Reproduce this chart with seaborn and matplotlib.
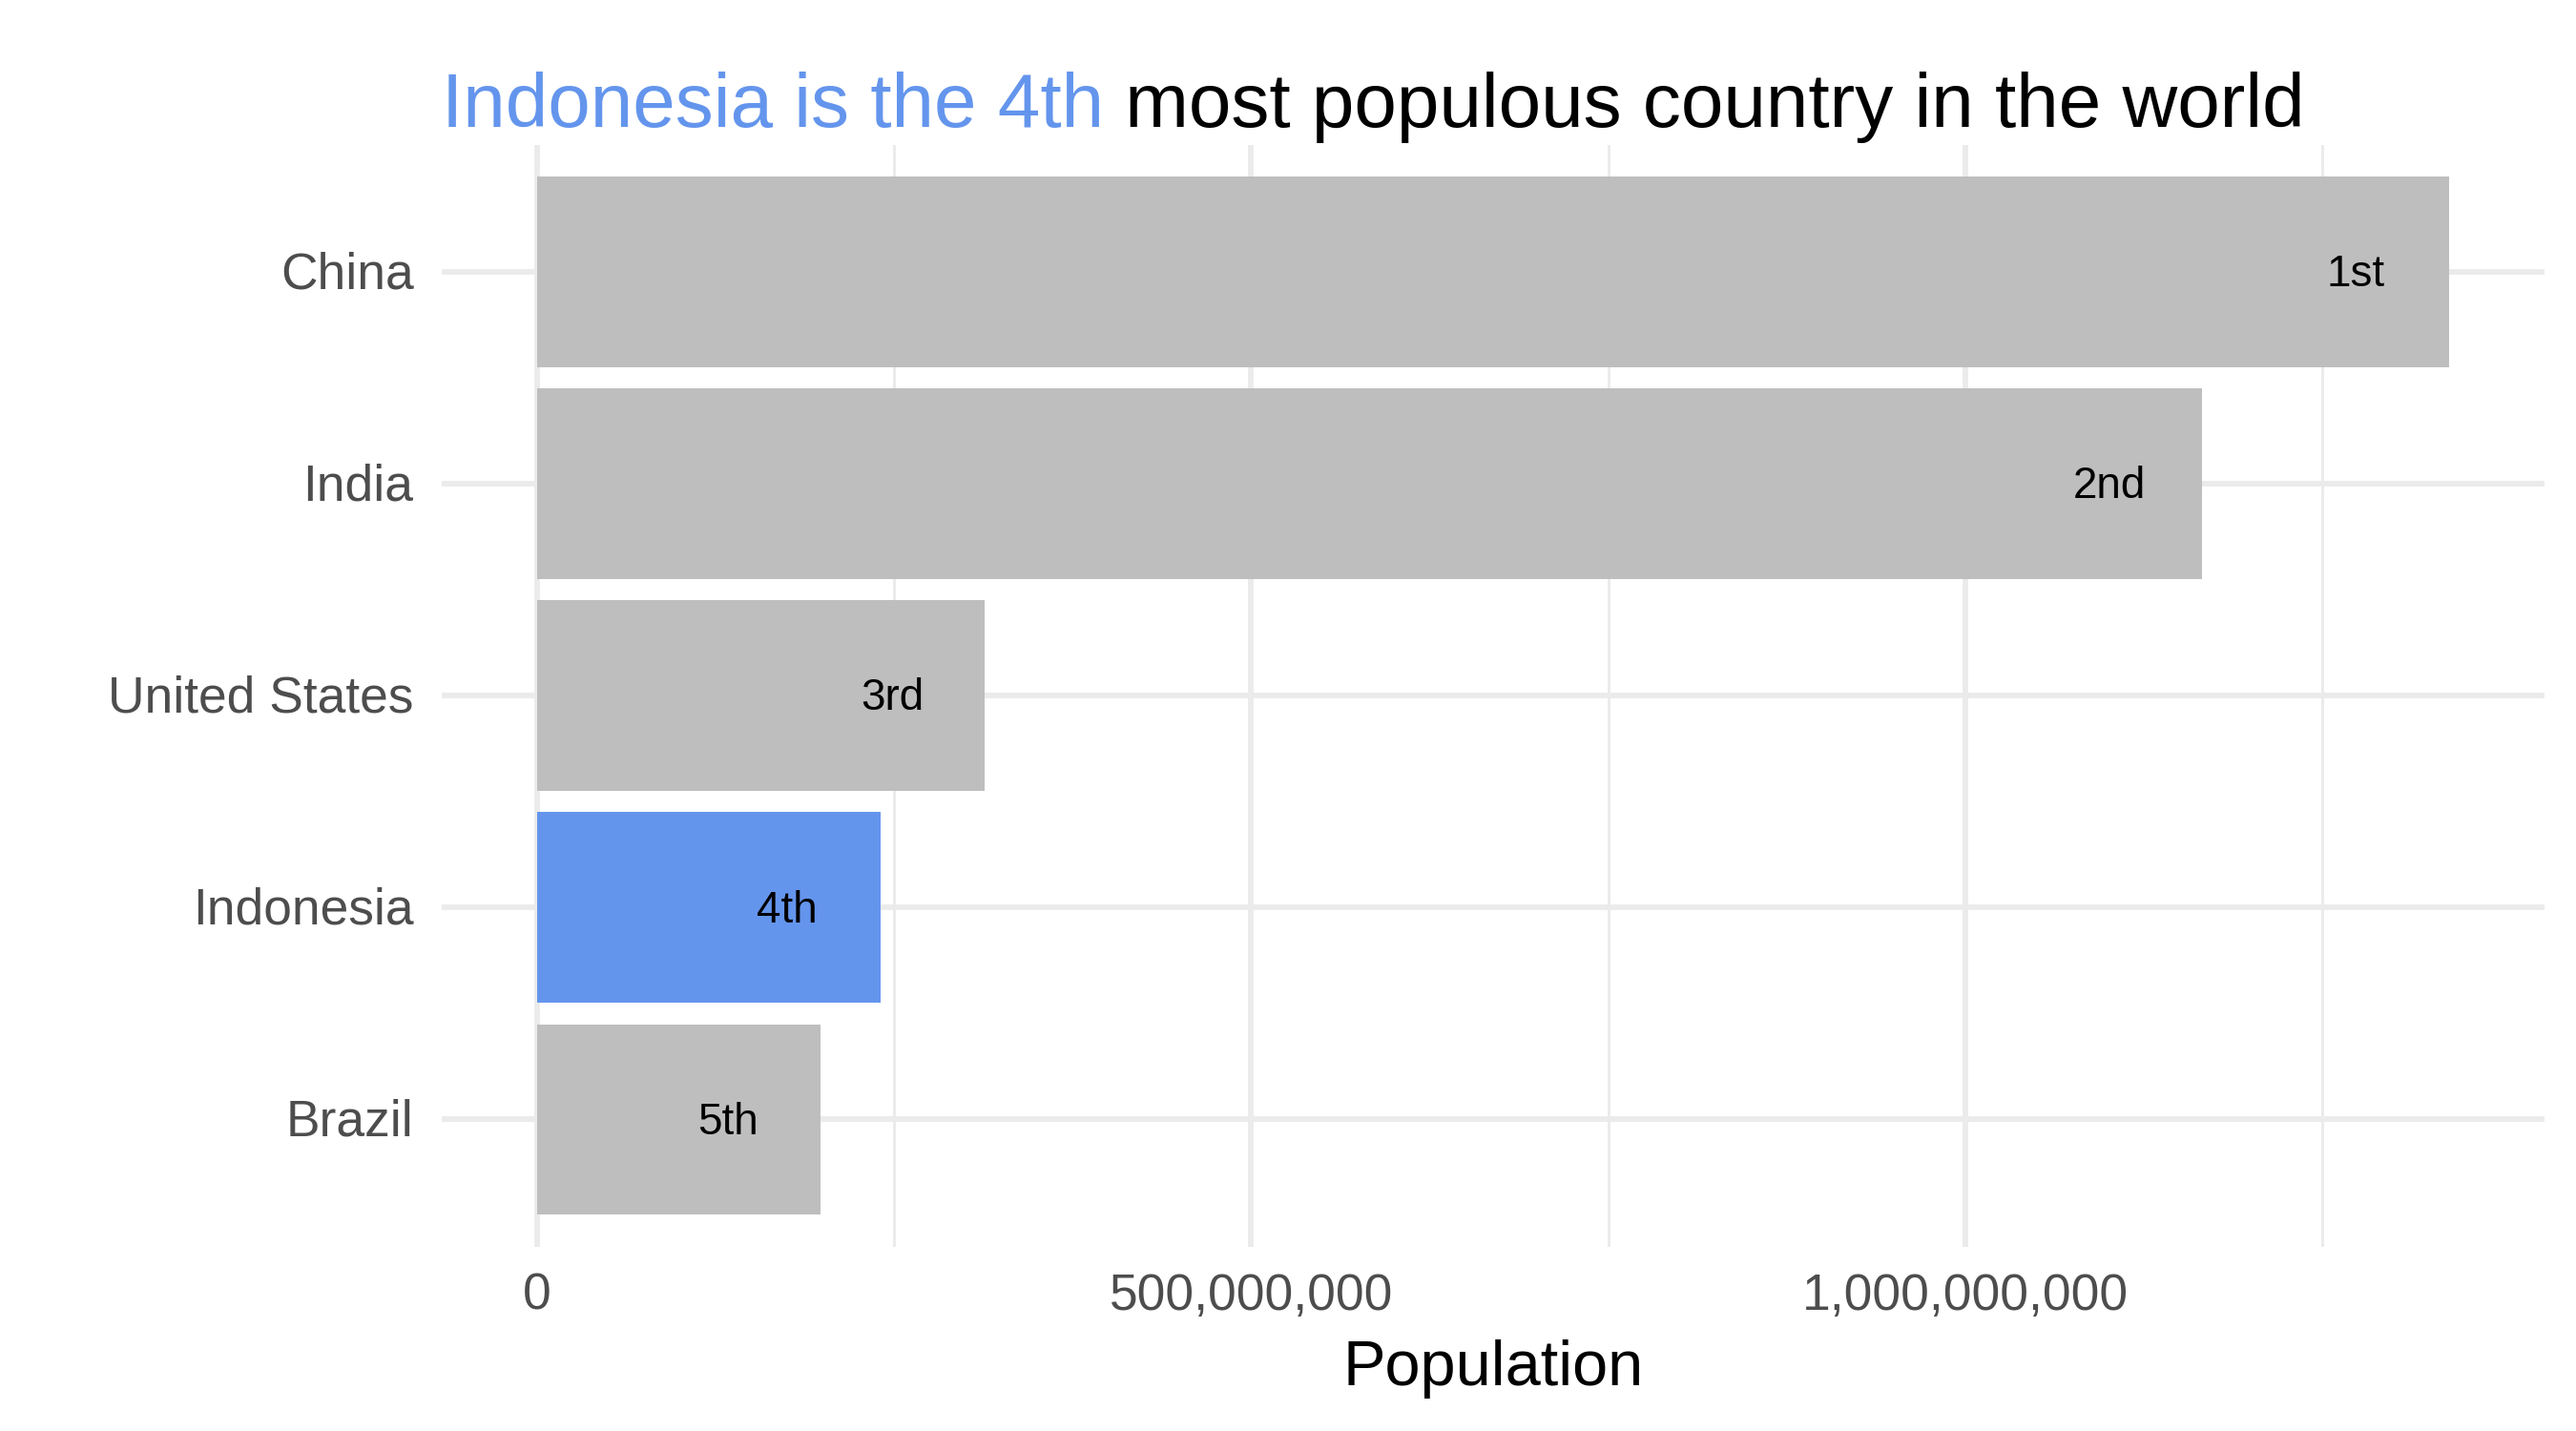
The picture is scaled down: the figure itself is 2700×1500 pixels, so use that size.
import numpy as np
import pandas as pd
import matplotlib
matplotlib.use("Agg")
import matplotlib.pyplot as plt
import matplotlib.ticker as mticker
import matplotlib.transforms as mtransforms
import seaborn as sns

# Data (top 5 countries by population)
countries = ["China", "India", "United States", "Indonesia", "Brazil"]
population = [1338612968, 1166079220, 313600000, 240271522, 198739269]
ranks = ["1st", "2nd", "3rd", "4th", "5th"]
highlight = "Indonesia"

grey = "#BEBEBE"
blue = "#6495ED"

df = pd.DataFrame({"country": countries, "population": population, "rank": ranks})
palette = {c: (blue if c == highlight else grey) for c in countries}

sns.set_theme(style="white")
plt.rcParams["font.family"] = ["Liberation Sans", "DejaVu Sans"]

fig, ax = plt.subplots(figsize=(9, 5), dpi=300)
fig.subplots_adjust(left=0.1714, right=0.9877, bottom=0.1288, top=0.899)

sns.barplot(data=df, y="country", x="population", hue="country",
            palette=palette, orient="h", width=0.9, legend=False,
            saturation=1, linewidth=0, ax=ax, zorder=2)

# rank labels inside the bars
for i, row in df.iterrows():
    ax.annotate(row["rank"], xy=(row["population"] - 65e6, i),
                xytext=(0, -0.8), textcoords="offset points",
                ha="center", va="center", fontsize=11, color="black", zorder=3)

# ggplot-like expansion
xmax = df["population"].max()
ax.set_xlim(-0.05 * xmax, 1.05 * xmax)
ax.set_ylim(len(countries) - 0.4, -0.6)

ax.xaxis.set_major_locator(mticker.FixedLocator([0, 5e8, 1e9]))
ax.xaxis.set_minor_locator(mticker.FixedLocator([2.5e8, 7.5e8, 1.25e9]))
ax.xaxis.set_major_formatter(mticker.FuncFormatter(lambda v, p: f"{v:,.0f}"))

ax.grid(True, which="major", axis="both", color="#EBEBEB", linewidth=1.4, zorder=0)
ax.grid(True, which="minor", axis="x", color="#EBEBEB", linewidth=0.7, zorder=0)
ax.set_axisbelow(True)

for s in ax.spines.values():
    s.set_visible(False)

ax.tick_params(axis="both", which="both", length=0, labelsize=12.8,
               labelcolor="#4D4D4D")
ax.tick_params(axis="y", pad=7)
ax.tick_params(axis="x", pad=6.5)
nudge = mtransforms.ScaledTranslation(0, -0.8 / 72, fig.dpi_scale_trans)
for lab in ax.get_yticklabels():
    lab.set_verticalalignment("center")
    lab.set_transform(lab.get_transform() + nudge)

ax.set_ylabel("")
ax.set_xlabel("Population", fontsize=16, color="black")
ax.xaxis.label.set_verticalalignment("baseline")
ax.xaxis.set_label_coords(0.5, -0.1257)

# two-coloured title
t1 = fig.text(0.1714, 0.9113, "Indonesia is the 4th", color=blue,
              fontsize=19.2, ha="left", va="baseline")
ax.annotate(" most populous country in the world", xy=(1, 0), xycoords=t1,
            ha="left", va="bottom", fontsize=19.2, color="black",
            annotation_clip=False)

fig.savefig("out.png", dpi=300)
